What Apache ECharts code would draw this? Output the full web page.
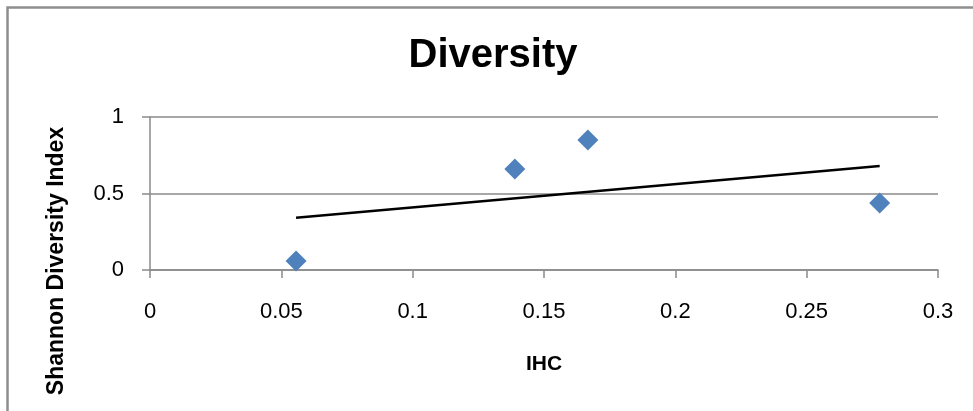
<!DOCTYPE html>
<html>
<head>
<meta charset="utf-8">
<script src="https://cdn.jsdelivr.net/npm/echarts@6/dist/echarts.min.js"></script>
<style>
html,body{margin:0;padding:0;background:#fff;}
#chart{width:973px;height:411px;}
</style>
</head>
<body>
<div id="chart"></div>
<script>
// Data
var ihc = [0.0556, 0.1389, 0.1667, 0.2778];
var shannon = [0.059, 0.66, 0.85, 0.438];
var trendX = [0.0556, 0.2778];
var trendY = [0.342, 0.679];
var chartTitle = 'Diversity';
var xName = 'IHC';
var yName = 'Shannon Diversity Index';

var pts = ihc.map(function (x, i) { return [x, shannon[i]]; });
var trend = trendX.map(function (x, i) { return [x, trendY[i]]; });

var chart = echarts.init(document.getElementById('chart'));
var gray = '#8a8a8a';
var font = '"Liberation Sans", Arial, sans-serif';
chart.setOption({
  animation: false,
  backgroundColor: '#ffffff',
  grid: { left: 150, top: 117, width: 788, height: 153 },
  xAxis: {
    type: 'value', min: 0, max: 0.3, interval: 0.05,
    name: xName, nameLocation: 'middle', nameGap: 84,
    nameTextStyle: { fontFamily: font, fontWeight: 'bold', fontSize: 21, color: '#000' },
    axisLine: { show: true, onZero: false, lineStyle: { color: gray, width: 1.5 } },
    axisTick: { show: true, inside: false, length: 8, lineStyle: { color: gray, width: 1.5 } },
    axisLabel: { margin: 31, fontFamily: font, fontSize: 22, color: '#000' },
    splitLine: { show: false }
  },
  yAxis: {
    type: 'value', min: 0, max: 1, interval: 0.5,
    axisLine: { show: true, lineStyle: { color: gray, width: 1.5 } },
    axisTick: { show: true, inside: false, length: 8, lineStyle: { color: gray, width: 1.5 } },
    axisLabel: { margin: 26, fontFamily: font, fontSize: 22, color: '#000' },
    splitLine: { show: true, lineStyle: { color: gray, width: 1.5 } }
  },
  graphic: [
    { type: 'rect', left: 5, top: 5, silent: true, z: -1,
      shape: { x: 0, y: 0, width: 1100, height: 500 },
      style: { fill: 'none', stroke: '#8e8e8e', lineWidth: 2.5 } },
    { type: 'text', x: 493, y: 56, silent: true,
      style: { text: chartTitle, font: 'bold 40px ' + font, fill: '#000', textAlign: 'center', textVerticalAlign: 'middle' } },
    { type: 'text', x: 57, y: 261, rotation: Math.PI / 2, silent: true,
      style: { text: yName, font: 'bold 23px ' + font, fill: '#000', textAlign: 'center', textVerticalAlign: 'middle' } }
  ],
  series: [
    { type: 'scatter', data: pts, symbol: 'diamond', symbolSize: 21,
      itemStyle: { color: '#4f81bd', opacity: 1 }, z: 3 },
    { type: 'line', data: trend, showSymbol: false, symbol: 'none',
      lineStyle: { color: '#000', width: 2.5 }, z: 2 }
  ]
});
</script>
</body>
</html>
